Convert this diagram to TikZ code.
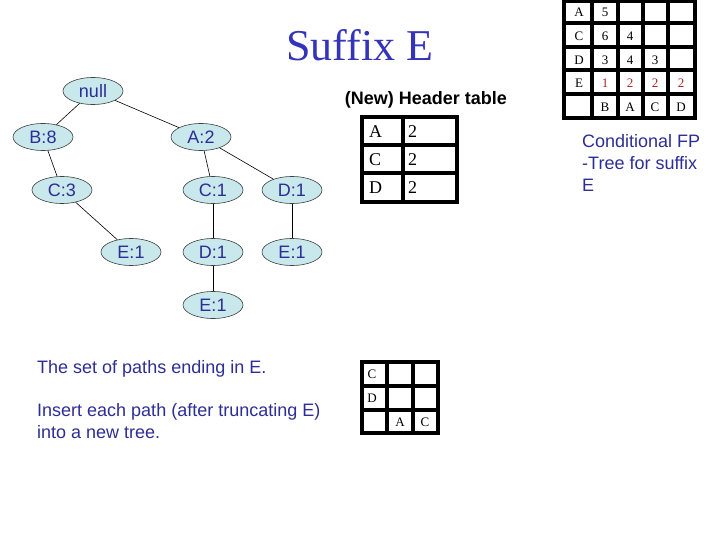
\documentclass[tikz,border=0pt]{standalone}
\usepackage{fontspec}
\setmainfont{Liberation Serif}
\setsansfont{Liberation Sans}
\usetikzlibrary{shapes.geometric}
\definecolor{titleblue}{RGB}{51,51,187}
\definecolor{txtblue}{RGB}{45,45,150}
\definecolor{nodefill}{RGB}{200,232,236}
\definecolor{cellred}{RGB}{170,40,40}
\begin{document}
\begin{tikzpicture}[x=1pt,y=-1pt,
  tnode/.style={ellipse,draw=black!75,line width=0.6pt,fill=nodefill,minimum width=60pt,minimum height=27pt,inner sep=0pt,font=\sffamily\fontsize{18}{20}\selectfont,text=txtblue},
  tedge/.style={draw=black,line width=0.6pt},
  bluetext/.style={font=\sffamily\fontsize{18}{22}\selectfont,text=txtblue,align=left,inner sep=0pt},
  gridline/.style={line width=3.2pt},
  bigcell/.style={font=\fontsize{18}{20}\selectfont,anchor=west,inner sep=0pt},
  smallcell/.style={font=\fontsize{13}{15}\selectfont,inner sep=0pt},
  redcell/.style={smallcell,text=cellred}]
\useasboundingbox (0,0) rectangle (720,540);

% title
\node[font=\fontsize{44}{48}\selectfont,text=titleblue] (title) at (360,45) {Suffix E};

% tree
\node[tnode] (null) at (93,91) {null};
\node[tnode] (b8) at (43,137) {B:8};
\node[tnode] (a2) at (201,137) {A:2};
\node[tnode] (c3) at (62,190) {C:3};
\node[tnode] (c1) at (213,190) {C:1};
\node[tnode] (d1) at (292,190) {D:1};
\node[tnode] (e1a) at (131,252) {E:1};
\node[tnode] (d1b) at (213,252) {D:1};
\node[tnode] (e1b) at (292,252) {E:1};
\node[tnode] (e1c) at (213,305) {E:1};
\draw[tedge] (null) -- (b8);
\draw[tedge] (null) -- (a2);
\draw[tedge] (b8) -- (c3);
\draw[tedge] (c3) -- (e1a);
\draw[tedge] (a2) -- (c1);
\draw[tedge] (a2) -- (d1);
\draw[tedge] (c1) -- (d1b);
\draw[tedge] (d1b) -- (e1c);
\draw[tedge] (d1) -- (e1b);

% header table
\node[font=\sffamily\bfseries\fontsize{18}{20}\selectfont,inner sep=0pt] (hdr) at (426,100) {(New) Header table};
\draw[gridline] (362,117) rectangle (457,202);
\draw[gridline] (403,117) -- (403,202);
\draw[gridline] (362,145) -- (457,145);
\draw[gridline] (362,173) -- (457,173);
\node[bigcell] (ha) at (369,132) {A};
\node[bigcell] (h2a) at (408,132) {2};
\node[bigcell] (hc) at (369,160) {C};
\node[bigcell] (h2c) at (408,160) {2};
\node[bigcell] (hd) at (369,188) {D};
\node[bigcell] (h2d) at (408,188) {2};

% top-right table
\draw[gridline] (564,1.6) rectangle (695,118);
\foreach \xx in {592,618,643,668} \draw[gridline] (\xx,1.6) -- (\xx,118);
\foreach \yy in {23,47,70,94} \draw[gridline] (564,\yy) -- (695,\yy);
\node[smallcell] (ra) at (579,12) {A};
\node[smallcell] (r5) at (605,12) {5};
\node[smallcell] (rc) at (579,36) {C};
\node[smallcell] (r6) at (605,36) {6};
\node[smallcell] (r4a) at (630,36) {4};
\node[smallcell] (rd) at (579,60) {D};
\node[smallcell] (r3a) at (605,60) {3};
\node[smallcell] (r4b) at (630,60) {4};
\node[smallcell] (r3b) at (655,60) {3};
\node[smallcell] (re) at (579,83) {E};
\node[redcell] (r1) at (605,83) {1};
\node[redcell] (r2a) at (630,83) {2};
\node[redcell] (r2b) at (655,83) {2};
\node[redcell] (r2c) at (681,83) {2};
\node[smallcell] (rb) at (605,107) {B};
\node[smallcell] (rA) at (630,107) {A};
\node[smallcell] (rC) at (655,107) {C};
\node[smallcell] (rD) at (681,107) {D};

\node[bluetext,anchor=north west] (cond) at (582,134) {Conditional FP\\-Tree for suffix\\E};

% bottom texts
\node[bluetext,anchor=west] (paths) at (37,369) {The set of paths ending in E.};
\node[bluetext,anchor=north west] (insert) at (37,403) {Insert each path (after truncating E)\\into a new tree.};

% bottom table
\draw[gridline] (362,362) rectangle (438,433);
\draw[gridline] (387,362) -- (387,433);
\draw[gridline] (413,362) -- (413,433);
\draw[gridline] (362,386) -- (438,386);
\draw[gridline] (362,410) -- (438,410);
\node[smallcell] (bc) at (372,374) {C};
\node[smallcell] (bd) at (372,398) {D};
\node[smallcell] (bA) at (400,422) {A};
\node[smallcell] (bC) at (425,422) {C};
\end{tikzpicture}
\end{document}
